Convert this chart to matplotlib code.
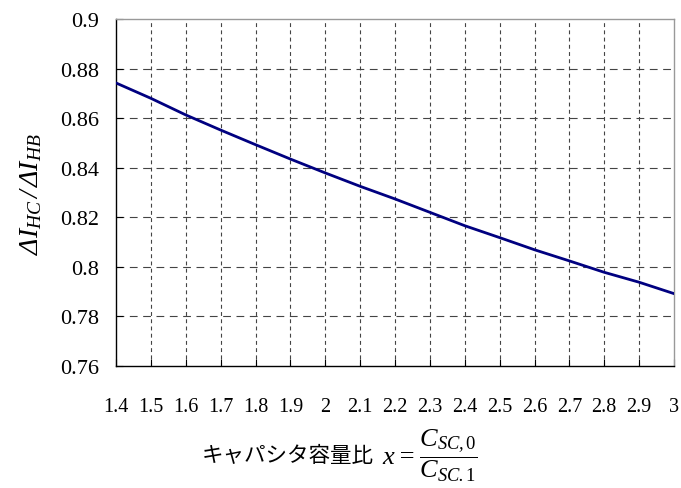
import matplotlib
matplotlib.use("Agg")
import matplotlib.pyplot as plt
import numpy as np

plt.rcParams['mathtext.fontset'] = 'custom'
# rm slot italic so that Greek capitals (always routed to rm) render italic;
# bf slot used for upright digits.
plt.rcParams['mathtext.rm'] = 'Liberation Serif:italic'
plt.rcParams['mathtext.it'] = 'Liberation Serif:italic'
plt.rcParams['mathtext.bf'] = 'Liberation Serif'
plt.rcParams['font.family'] = ['Liberation Serif', 'Noto Sans CJK JP', 'DejaVu Sans']

x_vals = [1.4, 1.5, 1.6, 1.7, 1.8, 1.9, 2.0, 2.1, 2.2, 2.3, 2.4, 2.5, 2.6, 2.7, 2.8, 2.9, 3.0]
ratio = [0.8742, 0.8680, 0.8613, 0.8552, 0.8493, 0.8435, 0.8379, 0.8325, 0.8274,
         0.8220, 0.8166, 0.8118, 0.8069, 0.8024, 0.7978, 0.7938, 0.7892]
x_ticks = [1.4, 1.5, 1.6, 1.7, 1.8, 1.9, 2.0, 2.1, 2.2, 2.3, 2.4, 2.5, 2.6, 2.7, 2.8, 2.9, 3.0]
x_tick_labels = ['1.4', '1.5', '1.6', '1.7', '1.8', '1.9', '2', '2.1', '2.2', '2.3',
                 '2.4', '2.5', '2.6', '2.7', '2.8', '2.9', '3']
y_ticks = [0.76, 0.78, 0.80, 0.82, 0.84, 0.86, 0.88, 0.90]
y_tick_labels = ['0.76', '0.78', '0.8', '0.82', '0.84', '0.86', '0.88', '0.9']

fig = plt.figure(figsize=(6.81, 4.89), dpi=100)
ax = fig.add_axes([116/681, 1 - 367/489, (674-116)/681, (367-20)/489])

for yt in y_ticks[1:-1]:
    ax.axhline(yt, color='#444444', lw=0.8, dashes=(7, 5), zorder=1)
for xt in x_ticks[1:-1]:
    ax.axvline(xt, color='#444444', lw=0.8, dashes=(3.5, 3), zorder=1)

ax.plot(x_vals, ratio, color='#000080', lw=2.0, zorder=3)

ax.set_xlim(1.4, 3.0)
ax.set_ylim(0.76, 0.90)
ax.set_xticks(x_ticks)
ax.set_xticklabels(x_tick_labels)
ax.set_yticks(y_ticks)
ax.set_yticklabels(y_tick_labels)
ax.tick_params(axis='both', direction='in', length=5, width=0.8, color='black')
ax.tick_params(axis='x', pad=22, labelsize=14.5)
ax.tick_params(axis='y', pad=12, labelsize=16)

for s in ['left', 'bottom']:
    ax.spines[s].set_color('black')
    ax.spines[s].set_linewidth(1.0)
for s in ['top', 'right']:
    ax.spines[s].set_color('#999999')
    ax.spines[s].set_linewidth(1.0)

fig.text(31/681, 1 - 194/489, r'$ΔI_{HC}\,/\,ΔI_{HB}$',
         rotation=90, ha='center', va='center', fontsize=20)

fig.text(288/681, 1 - 456/489, 'キャパシタ容量比', ha='center', va='center',
         fontsize=15.5, family=['Noto Sans CJK JP', 'DejaVu Sans'])
fig.text(382/681, 1 - 456/489, r'$x=\dfrac{C_{SC,\mathbf{0}}}{C_{SC.\mathbf{1}}}$',
         ha='left', va='center', fontsize=19)

fig.savefig('out.png', dpi=100)
